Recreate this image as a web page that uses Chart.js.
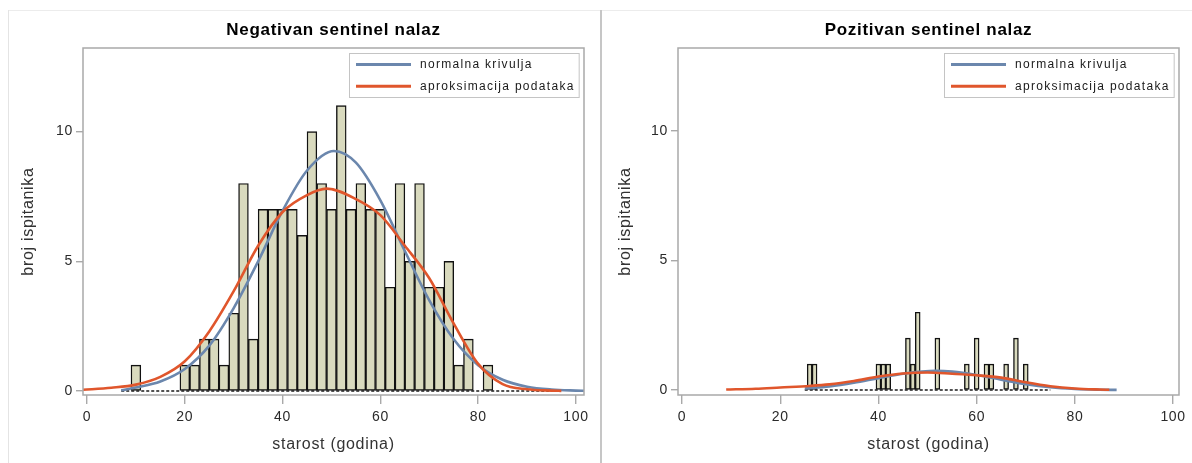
<!DOCTYPE html>
<html>
<head>
<meta charset="utf-8">
<script src="https://cdn.jsdelivr.net/npm/chart.js@4.4.0/dist/chart.umd.min.js"></script>
<style>
  body { margin: 0; background: #fff; }
  #wrap { position: relative; width: 1192px; height: 463px; overflow: hidden; background: #fff; }
  canvas { position: absolute; top: 0; }
  #negChart { left: 0; }
  #posChart { left: 600px; }
  .edge { position: absolute; }
  #topEdge { left: 8px; top: 10px; width: 1184px; height: 1px; background: #ececec; }
  #leftEdge { left: 8px; top: 10px; width: 1px; height: 453px; background: #e4e4e4; }
  #midEdge { left: 600px; top: 10px; width: 2px; height: 453px; background: #c6c6c6; }
</style>
</head>
<body>
<div id="wrap">
  <canvas id="negChart" width="600" height="463"></canvas>
  <canvas id="posChart" width="592" height="463"></canvas>
  <div class="edge" id="topEdge"></div>
  <div class="edge" id="leftEdge"></div>
  <div class="edge" id="midEdge"></div>
</div>
<script>
// negativan sentinel nalaz - histogram, bins of 2 years
const negAge = [10, 20, 22, 24, 26, 28, 30, 32, 34, 36, 38, 40, 42, 44, 46, 48, 50, 52, 54, 56, 58, 60, 62, 64, 66, 68, 70, 72, 74, 76, 78, 80, 82];
const negCount = [1, 1, 1, 2, 2, 1, 3, 8, 2, 7, 7, 7, 7, 6, 10, 8, 7, 11, 7, 8, 7, 7, 4, 8, 5, 8, 4, 4, 5, 1, 2, 0, 1];
const negSpan = [7, 97];
const negNormX = [7, 10, 15, 20, 25, 30, 35, 40, 45, 50.5, 55, 60, 65, 70, 75, 80, 85, 90, 95, 100, 102];
const negNormY = [0.03, 0.14, 0.37, 0.85, 1.75, 3.2, 5.0, 6.95, 8.5, 9.25, 8.8, 7.35, 5.4, 3.5, 2.0, 1.0, 0.44, 0.17, 0.06, 0.02, 0.01];
const negFitX = [-1, 5, 10, 15, 20, 25, 30, 35, 40, 45, 49, 55, 60, 65, 70, 75, 80, 85, 90, 95, 97];
const negFitY = [0.05, 0.13, 0.25, 0.55, 1.15, 2.3, 3.85, 5.6, 6.9, 7.55, 7.8, 7.4, 6.78, 5.6, 4.35, 2.6, 1.05, 0.27, 0.07, 0.02, 0.01];

// pozitivan sentinel nalaz - histogram, bins of 1 year
const posAge = [26, 27, 40, 41, 42, 46, 47, 48, 52, 58, 60, 62, 63, 66, 68, 70];
const posCount = [1, 1, 1, 1, 1, 2, 1, 3, 2, 1, 2, 1, 1, 1, 2, 1];
const posSpan = [25, 75];
const posNormX = [25, 30, 35, 40, 45, 51.7, 55, 60, 65, 70, 75, 80, 85, 88.5];
const posNormY = [0.06, 0.14, 0.28, 0.46, 0.63, 0.74, 0.71, 0.58, 0.40, 0.23, 0.11, 0.044, 0.015, 0.006];
const posFitX = [9, 15, 20, 26, 30, 35, 40, 45, 50, 55, 60, 65, 70, 75, 80, 85, 87];
const posFitY = [0.02, 0.05, 0.1, 0.16, 0.22, 0.35, 0.52, 0.64, 0.68, 0.63, 0.57, 0.48, 0.3, 0.15, 0.06, 0.02, 0.01];

const xTicks = [0, 20, 40, 60, 80, 100];
const yTicks = [0, 5, 10];
const legendLabels = ['normalna krivulja', 'aproksimacija podataka'];

const FONT = '"Liberation Sans", Arial, sans-serif';
const blue = '#6b87ad';
const red = '#e0562c';
const barFill = '#d9dabe';

const pts = (xs, ys) => xs.map((x, i) => ({ x: x, y: ys[i] }));

// gray box round the plot area + legend box inside it
const framePlugin = {
  id: 'frameAndLegend',
  beforeDraw(chart) {
    chart.ctx.letterSpacing = '0.7px';
  },
  afterDraw(chart) {
    const ctx = chart.ctx, a = chart.chartArea;
    ctx.save();
    ctx.strokeStyle = '#a9a9a9';
    ctx.lineWidth = 1.5;
    ctx.strokeRect(a.left, a.top, a.right - a.left, a.bottom - a.top);

    ctx.font = '12px ' + FONT;
    ctx.letterSpacing = '1.3px';
    const items = legendLabels.map(l => chart.data.datasets.find(d => d.label === l));
    const textW = Math.max(...items.map(d => ctx.measureText(d.label).width));
    const w = 7 + 55 + 9 + textW + 4, h = 44;
    const x = Math.round(a.right - 5 - w), y = Math.round(a.top + 5);
    ctx.fillStyle = '#fff';
    ctx.fillRect(x, y, w, h);
    ctx.strokeStyle = '#c4c4c4';
    ctx.lineWidth = 1;
    ctx.strokeRect(x + 0.5, y + 0.5, w, h);
    items.forEach((d, i) => {
      const ly = y + 11.5 + i * 21.7;
      ctx.strokeStyle = d.borderColor;
      ctx.lineWidth = 3;
      ctx.beginPath();
      ctx.moveTo(x + 7, ly);
      ctx.lineTo(x + 62, ly);
      ctx.stroke();
      ctx.fillStyle = '#1a1a1a';
      ctx.textBaseline = 'middle';
      ctx.textAlign = 'left';
      ctx.fillText(d.label, x + 71, ly + 0.5);
    });
    ctx.restore();
  }
};

function makeChart(id, title, age, count, span, normX, normY, fitX, fitY, xr, yr, yWidth, padRight, yTitlePad) {
  return new Chart(document.getElementById(id), {
    type: 'bar',
    data: {
      datasets: [
        {
          type: 'line', label: 'aproksimacija podataka', data: pts(fitX, fitY),
          borderColor: red, borderWidth: 2.6, pointRadius: 0,
          cubicInterpolationMode: 'monotone', order: 0
        },
        {
          type: 'line', label: 'normalna krivulja', data: pts(normX, normY),
          borderColor: blue, borderWidth: 2.6, pointRadius: 0,
          cubicInterpolationMode: 'monotone', order: 1
        },
        {
          type: 'line', label: 'prazno', data: span.map(x => ({ x: x, y: 0 })),
          borderColor: '#1a1a1a', borderWidth: 1.5, borderDash: [3, 2], pointRadius: 0, order: 2
        },
        {
          label: 'broj', data: pts(age, count),
          backgroundColor: barFill, borderColor: '#111', borderWidth: 1.4,
          borderSkipped: false, barPercentage: 1, categoryPercentage: 1, order: 3
        }
      ]
    },
    options: {
      responsive: false,
      animation: false,
      layout: { padding: { left: 0, right: padRight, top: 0, bottom: 0 } },
      plugins: {
        legend: { display: false },
        tooltip: { enabled: false },
        title: {
          display: true, text: title, fullSize: false, color: '#000',
          font: { family: FONT, size: 17, weight: 'bold' },
          padding: { top: 20, bottom: 7.6 }
        }
      },
      scales: {
        x: {
          type: 'linear', min: xr[0], max: xr[1], offset: false,
          afterBuildTicks: s => { s.ticks = xTicks.map(v => ({ value: v })); },
          afterFit: s => { s.height = 68; },
          border: { display: false },
          grid: { offset: false, drawOnChartArea: false, drawTicks: true, tickLength: 9, color: '#a9a9a9', tickColor: '#a9a9a9', lineWidth: 1.4 },
          ticks: { padding: 5, color: '#2a2a2a', autoSkip: false, maxRotation: 0, font: { family: FONT, size: 14 } },
          title: { display: true, text: 'starost (godina)', color: '#333', font: { family: FONT, size: 16 }, padding: { top: 0, bottom: 8.4 } }
        },
        y: {
          min: yr[0], max: yr[1],
          afterBuildTicks: s => { s.ticks = yTicks.map(v => ({ value: v })); },
          afterFit: s => { s.width = yWidth; },
          border: { display: false },
          grid: { drawOnChartArea: false, drawTicks: true, tickLength: 7, color: '#a9a9a9', tickColor: '#a9a9a9', lineWidth: 1.4 },
          ticks: { padding: 3, color: '#2a2a2a', font: { family: FONT, size: 14 } },
          title: { display: true, text: 'broj ispitanika', color: '#333', font: { family: FONT, size: 16 }, padding: { top: yTitlePad, bottom: 0 } }
        }
      }
    },
    plugins: [framePlugin]
  });
}

makeChart('negChart', 'Negativan sentinel nalaz', negAge, negCount, negSpan,
  negNormX, negNormY, negFitX, negFitY, [-0.82, 101.64], [-0.15, 13.22], 83, 16, 19.4);
makeChart('posChart', 'Pozitivan sentinel nalaz', posAge, posCount, posSpan,
  posNormX, posNormY, posFitX, posFitY, [-0.81, 101.2], [-0.19, 13.19], 78, 13, 16.4);
</script>
</body>
</html>
